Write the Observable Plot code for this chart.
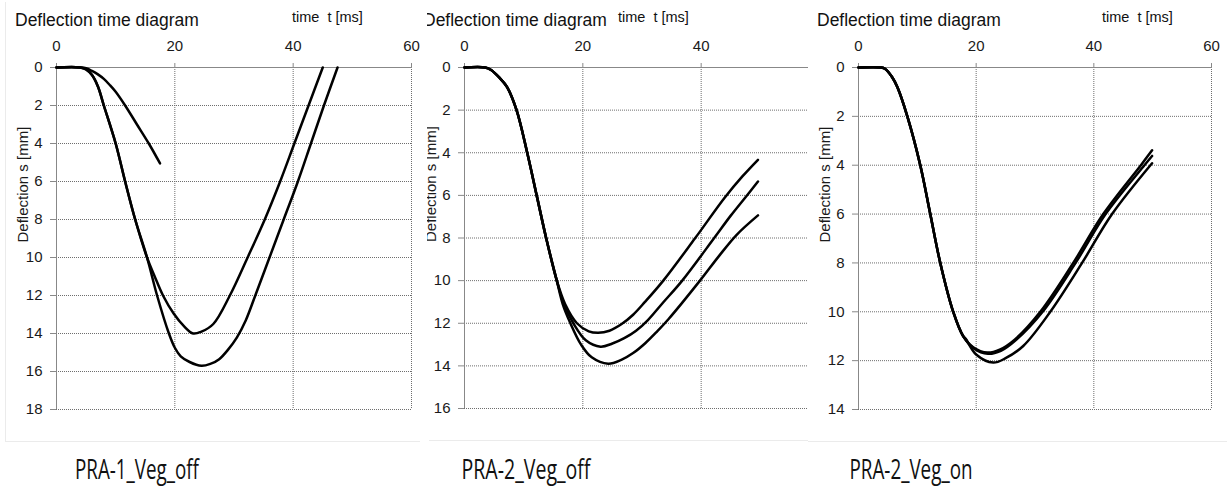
<!DOCTYPE html>
<html>
<head>
<meta charset="utf-8">
<script src="https://cdn.jsdelivr.net/npm/d3@7"></script>
<script src="https://cdn.jsdelivr.net/npm/@observablehq/plot@0.6"></script>
<style>
html, body { margin: 0; padding: 0; background: #fff; }
#root { position: relative; width: 1227px; height: 492px; overflow: hidden; background: #fff; }
.panel { position: absolute; top: 0; height: 446px; overflow: hidden; }
.panel > svg { position: absolute; top: 0; max-width: none !important; }
.hline { position: absolute; height: 1px; background: #ebebeb; }
.vline { position: absolute; width: 1px; background: #ebebeb; }
#captions { position: absolute; left: 0; top: 0; }
</style>
</head>
<body>
<div id="root"></div>
<script>
// ---------- data ----------
const timeTicks = [0, 20, 40, 60];
const p2TimeTicks = [0, 20, 40];
const p1DeflTicks = [0, 2, 4, 6, 8, 10, 12, 14, 16, 18];
const p2DeflTicks = [0, 2, 4, 6, 8, 10, 12, 14, 16];
const p3DeflTicks = [0, 2, 4, 6, 8, 10, 12, 14];
const panelNames = ["PRA-1_Veg_off", "PRA-2_Veg_off", "PRA-2_Veg_on"];

// Panel 1: PRA-1_Veg_off
const p1A_t = [0, 4, 5, 6, 7, 8, 9, 10, 11.6, 13.6, 15.6, 17.5];
const p1A_s = [0, 0, 0.04, 0.18, 0.36, 0.6, 0.92, 1.28, 2.0, 3.0, 4.0, 5.05];
const p1B_t = [0, 4, 5, 6, 7, 8, 10, 11.6, 13.3, 15.3, 17, 19, 20, 21, 22.5, 24.5, 26, 27.5, 29, 30.5, 32, 33.6, 36, 38.4, 40.8, 43, 45.2, 47.5];
const p1B_s = [0, 0, 0.1, 0.4, 1.0, 2, 4, 6, 8, 10, 12, 14, 14.75, 15.2, 15.5, 15.7, 15.6, 15.35, 14.85, 14.2, 13.3, 12, 10, 8, 6, 4, 2, 0];
const p1C_t = [0, 4, 5, 6, 7, 8, 10, 11.6, 13.3, 15.3, 16.6, 18, 19.8, 21.5, 23.1, 24.5, 26.5, 29.3, 32.3, 35.2, 37.8, 40.2, 42.6, 45];
const p1C_s = [0, 0, 0.1, 0.4, 1.0, 2, 4, 6, 8, 10, 11, 12, 12.95, 13.6, 14, 13.9, 13.5, 12, 10, 8, 6, 4, 2, 0];

// Panel 2: PRA-2_Veg_off (common fall, then three branches)
const p2Start_t = [0, 3.5, 4.5, 5.9, 7.2, 8.8, 10.6, 12.2, 13.8, 15.6];
const p2Start_s = [0, 0, 0.12, 0.48, 0.92, 2, 4, 6, 8, 10];
const p2A_t = [17, 19, 21, 22.6, 24.5, 26.5, 28.5, 30.5, 33.6, 39, 44, 47, 49.6];
const p2A_s = [11.1, 12, 12.38, 12.45, 12.35, 12.05, 11.6, 11.0, 10, 8, 6.1, 5.1, 4.33];
const p2B_t = [16.8, 18.4, 20.5, 23, 25, 27, 29, 31, 33.5, 36.8, 42.2, 45, 47.6, 49.6];
const p2B_s = [11.1, 12, 12.8, 13.1, 12.95, 12.7, 12.35, 11.85, 11.05, 10, 8, 6.95, 6.05, 5.35];
const p2C_t = [16.6, 17.9, 19.7, 21.5, 24.3, 26.5, 28.5, 30.5, 32.5, 34.5, 39.8, 43, 46, 49.6];
const p2C_s = [11.1, 12, 13, 13.6, 13.9, 13.72, 13.4, 12.95, 12.4, 11.8, 10, 8.85, 7.85, 6.94];

// Panel 3: PRA-2_Veg_on (common fall, then three branches)
const p3Start_t = [0, 3.8, 4.5, 5.7, 6.6, 8.3, 10.5, 12.2, 13.9, 16.1, 17.8];
const p3Start_s = [0, 0, 0.05, 0.39, 0.8, 2, 4, 6, 8, 10, 11];
const p3A_t = [19.5, 21.9, 24, 26.5, 30.9, 36.5, 41.6, 48, 49.9];
const p3A_s = [11.45, 11.67, 11.55, 11.15, 10, 8, 6, 4, 3.39];
const p3B_t = [19.6, 22, 24.2, 26.8, 31.3, 36.9, 42, 48.6, 49.9];
const p3B_s = [11.5, 11.72, 11.6, 11.15, 10, 8, 6, 4, 3.62];
const p3C_t = [18.2, 20, 22.9, 25, 28, 32.6, 38, 43.1, 49.9];
const p3C_s = [11.1, 11.75, 12.08, 11.9, 11.4, 10, 8, 6, 3.92];

// ---------- build ----------
function series(id, t, s) { return t.map((v, i) => ({ id, t: v, s: s[i] })); }

const p1Data = [
  ...series("A", p1A_t, p1A_s),
  ...series("B", p1B_t, p1B_s),
  ...series("C", p1C_t, p1C_s)
];
const p2Data = [
  ...series("A", p2Start_t.concat(p2A_t), p2Start_s.concat(p2A_s)),
  ...series("B", p2Start_t.concat(p2B_t), p2Start_s.concat(p2B_s)),
  ...series("C", p2Start_t.concat(p2C_t), p2Start_s.concat(p2C_s))
];
const p3Data = [
  ...series("A", p3Start_t.concat(p3A_t), p3Start_s.concat(p3A_s)),
  ...series("B", p3Start_t.concat(p3B_t), p3Start_s.concat(p3B_s)),
  ...series("C", p3Start_t.concat(p3C_t), p3Start_s.concat(p3C_s))
];

const panels = [
  { data: p1Data, yTicks: p1DeflTicks, xLabels: timeTicks, boxLeft: 0, boxWidth: 427, svgLeft: 0, width: 430, mr: 19, mb: 31, timeX: 292 },
  { data: p2Data, yTicks: p2DeflTicks, xLabels: p2TimeTicks, boxLeft: 427, boxWidth: 381, svgLeft: 408, width: 430, mr: 19, mb: 32, timeX: 210 },
  { data: p3Data, yTicks: p3DeflTicks, xLabels: timeTicks, boxLeft: 808, boxWidth: 419, svgLeft: 802, width: 425, mr: 16, mb: 31, timeX: 300 }
];

const root = document.getElementById("root");
const FONT = "'Liberation Sans', Arial, sans-serif";

panels.forEach((p) => {
  const yMax = p.yTicks[p.yTicks.length - 1];
  const chart = Plot.plot({
    width: p.width,
    height: 440,
    marginLeft: 56,
    marginRight: p.mr,
    marginTop: 67,
    marginBottom: p.mb,
    style: { fontFamily: FONT, fontSize: "15px", color: "#1a1a1a", background: "transparent", overflow: "visible", maxWidth: "none" },
    x: { domain: [0, 60] },
    y: { domain: [0, yMax], reverse: true },
    marks: [
      Plot.gridX(timeTicks, { stroke: "#6e6e6e", strokeOpacity: 1, strokeWidth: 1, strokeDasharray: "1,1" }),
      Plot.gridY(p.yTicks, { stroke: "#6e6e6e", strokeOpacity: 1, strokeWidth: 1, strokeDasharray: "1,1" }),
      Plot.ruleY([0], { stroke: "#888" }),
      Plot.ruleX([0], { stroke: "#888" }),
      Plot.axisX(p.xLabels, { anchor: "top", tickSize: 5, tickPadding: 12, stroke: "#888", label: null, fontSize: 15 }),
      Plot.axisY(p.yTicks, { anchor: "left", tickSize: 6, tickPadding: 8, stroke: "#888", label: null, fontSize: 15 }),
      Plot.text(["Deflection s [mm]"], { frameAnchor: "left", rotate: -90, dx: -33, dy: 4, fontSize: 15, fill: "#1a1a1a" }),
      Plot.line(p.data, { x: "t", y: "s", z: "id", stroke: "#000", strokeWidth: 2.5, curve: "catmull-rom" })
    ]
  });

  const box = document.createElement("div");
  box.className = "panel";
  box.style.left = p.boxLeft + "px";
  box.style.width = p.boxWidth + "px";
  chart.style.left = (p.svgLeft - p.boxLeft) + "px";
  chart.style.maxWidth = "none";
  chart.style.width = p.width + "px";
  chart.style.height = "440px";
  box.appendChild(chart);
  root.appendChild(box);

  const svg = d3.select(chart);
  svg.append("text")
    .attr("x", 15).attr("y", 26)
    .attr("text-anchor", "start")
    .attr("font-family", FONT).attr("font-size", 17.5).attr("fill", "#111")
    .text("Deflection time diagram");
  svg.append("text")
    .attr("x", p.timeX).attr("y", 22)
    .attr("text-anchor", "start")
    .attr("font-family", FONT).attr("font-size", 14.5).attr("fill", "#111")
    .style("white-space", "pre")
    .text("time  t [ms]");
});

// faint panel frames
function line(cls, l, t, w, h) {
  const d = document.createElement("div");
  d.className = cls;
  d.style.left = l + "px"; d.style.top = t + "px";
  if (w) d.style.width = w + "px";
  if (h) d.style.height = h + "px";
  root.appendChild(d);
}
line("vline", 5, 2, null, 439);
line("hline", 5, 441, 415, null);
line("hline", 429, 440, 379, null);
line("hline", 808, 441, 419, null);

// captions
const capCenters = [137, 526, 911];
const capSvg = d3.select(root).append("svg")
  .attr("id", "captions").attr("width", 1227).attr("height", 492);
capSvg.selectAll("text").data(panelNames).join("text")
  .attr("x", (d, i) => capCenters[i])
  .attr("y", 479)
  .attr("text-anchor", "middle")
  .attr("font-family", "'Open Sans', 'Noto Sans', sans-serif")
  .attr("font-size", 27)
  .attr("textLength", (d, i) => [124, 129, 123][i])
  .attr("lengthAdjust", "spacingAndGlyphs")
  .attr("fill", "#111")
  .text(d => d);
</script>
</body>
</html>
